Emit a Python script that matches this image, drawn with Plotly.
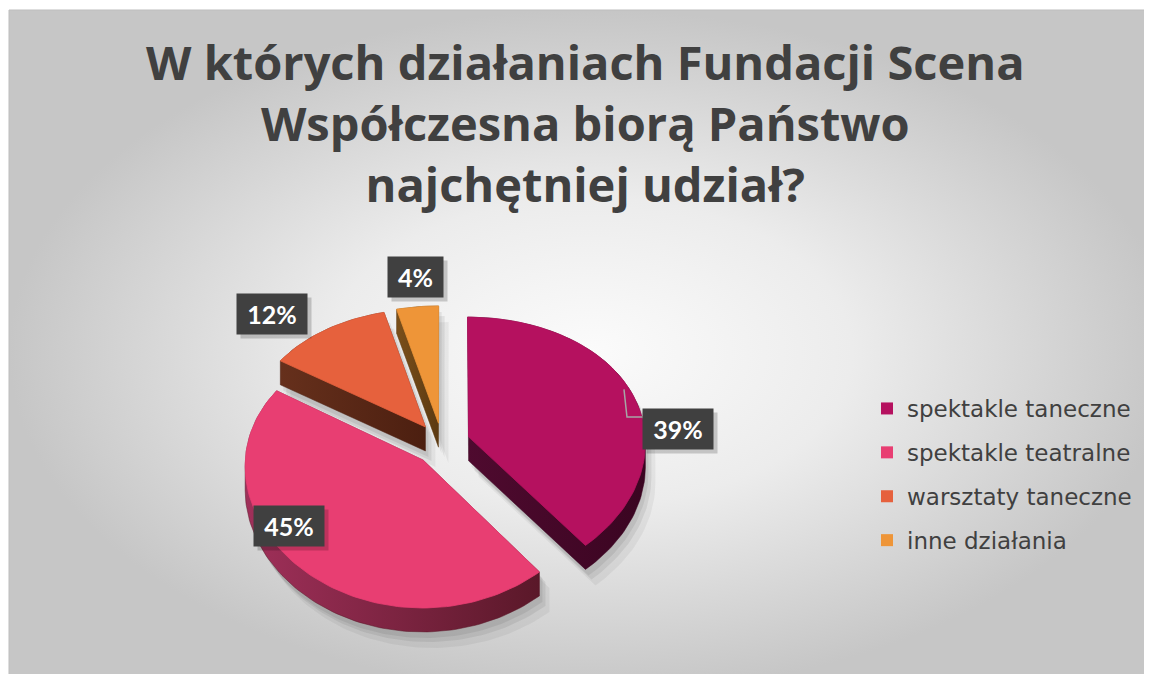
import numpy as np
import plotly.graph_objects as go

# ---------------- data ----------------
categories = ["spektakle taneczne", "spektakle teatralne", "warsztaty taneczne", "inne działania"]
values = [39, 45, 12, 4]
colors = ["#B5115F", "#E83E72", "#E6613D", "#EE9538"]
wall_colors = [["#4f0a2f", "#3a0521"], ["#a0305a", "#5a1829"], ["#66301c", "#4c1f10"], ["#7a4f1a", "#5c3a12"]]
title_lines = ["W których działaniach Fundacji Scena", "Współczesna biorą Państwo", "najchętniej udział?"]

# ---------------- layout constants ----------------
PAGE_W, PAGE_H = 1152, 674
OFF = 8  # default page body margin
W, H = PAGE_W - OFF, PAGE_H - OFF
CX, CY = 442.0, 444.0
RX, RY = 177.0, 133.0
PX, PY = 0.04, 0.09
T = 24.0
EXPLODE = 0.16
TITLE_FONT = "Open Sans"
LEG_FONT = "DejaVu Sans"
LAB_FONT = "Lato"
TXT = "#404040"
LABEL_XY = [(678, 429), (289, 526), (272, 314), (415, 277)]
LABEL_W = [70, 70, 70, 55]


def proj(u, v, z=0.0):
    u = np.asarray(u, float)
    v = np.asarray(v, float)
    x = CX + RX * u * (1 + PX * v)
    y = CY + RY * v * (1 + PY * v) + T * z
    return x, y


def hull(points):
    pts = sorted(set((round(a, 3), round(b, 3)) for a, b in points))
    if len(pts) < 3:
        return pts

    def cross(o, a, b):
        return (a[0] - o[0]) * (b[1] - o[1]) - (a[1] - o[1]) * (b[0] - o[0])

    lower, upper = [], []
    for p in pts:
        while len(lower) >= 2 and cross(lower[-2], lower[-1], p) <= 0:
            lower.pop()
        lower.append(p)
    for p in reversed(pts):
        while len(upper) >= 2 and cross(upper[-2], upper[-1], p) <= 0:
            upper.pop()
        upper.append(p)
    return lower[:-1] + upper[:-1]


total = float(sum(values))
bounds = np.concatenate([[0], np.cumsum(values)]) / total * 2 * np.pi

slices = []
for i, v in enumerate(values):
    a0, a1 = bounds[i], bounds[i + 1]
    mid = 0.5 * (a0 + a1)
    eu, ev = EXPLODE * np.sin(mid), -EXPLODE * np.cos(mid)
    n = max(4, int((a1 - a0) / (2 * np.pi) * 240))
    th = np.linspace(a0, a1, n)
    us = np.concatenate([[eu], eu + np.sin(th)])
    vs = np.concatenate([[ev], ev - np.cos(th)])
    slices.append((us, vs))

fig = go.Figure()

# background panel with radial gradient
fig.add_trace(go.Scatter(
    x=[9, PAGE_W + 20, PAGE_W + 20, 9, 9], y=[10, 10, PAGE_H + 20, PAGE_H + 20, 10],
    mode="lines", fill="toself", line=dict(color="#bdbdbd", width=1),
    fillgradient=dict(type="radial", colorscale=[[0, "#fbfbfb"], [0.45, "#ececec"], [1, "#c6c6c6"]]),
    hoverinfo="skip", showlegend=False))

# soft floor shadow
for dx, dy, a in [(10, 16, 0.05), (6, 10, 0.07), (3, 6, 0.07)]:
    for us, vs in slices:
        xt, yt = proj(us, vs, 0)
        xb, yb = proj(us, vs, 1)
        hp = hull(list(zip(xt, yt)) + list(zip(xb, yb)))
        hx = [p[0] + dx for p in hp] + [hp[0][0] + dx]
        hy = [p[1] + dy for p in hp] + [hp[0][1] + dy]
        fig.add_trace(go.Scatter(x=hx, y=hy, mode="lines", fill="toself",
                                 fillcolor=f"rgba(0,0,0,{a})", line=dict(width=0),
                                 hoverinfo="skip", showlegend=False))

# slices, back to front
order = sorted(range(len(values)), key=lambda i: -np.cos(0.5 * (bounds[i] + bounds[i + 1])))
for i in order:
    us, vs = slices[i]
    xt, yt = proj(us, vs, 0)
    xb, yb = proj(us, vs, 1)
    hp = hull(list(zip(xt, yt)) + list(zip(xb, yb)))
    hx = [p[0] for p in hp] + [hp[0][0]]
    hy = [p[1] for p in hp] + [hp[0][1]]
    fig.add_trace(go.Scatter(
        x=hx, y=hy, mode="lines", fill="toself", line=dict(width=0.5, color=wall_colors[i][1]),
        fillgradient=dict(type="horizontal", colorscale=[[0, wall_colors[i][0]], [1, wall_colors[i][1]]]),
        hoverinfo="skip", showlegend=False))
    fig.add_trace(go.Scatter(
        x=list(xt) + [xt[0]], y=list(yt) + [yt[0]], mode="lines", fill="toself",
        fillcolor=colors[i], line=dict(width=0.8, color=colors[i]),
        hoverinfo="skip", showlegend=False))

# leader line for the first slice label
a_mid = bounds[0] + 0.48 * (bounds[1] - bounds[0])
us0, vs0 = slices[0]
lx, ly = proj(us0[0] + 0.97 * np.sin(a_mid), vs0[0] - 0.97 * np.cos(a_mid))
lab_x, lab_y = LABEL_XY[0]
fig.add_trace(go.Scatter(
    x=[float(lx), float(lx) + 3, lab_x - LABEL_W[0] / 2],
    y=[float(ly), lab_y - 12, lab_y - 12],
    mode="lines", line=dict(color="#a6a6a6", width=1.5),
    hoverinfo="skip", showlegend=False))

# legend entries
for c, col in zip(categories, colors):
    fig.add_trace(go.Scatter(x=[None], y=[None], mode="markers", name=c, legendgroup=c,
                             marker=dict(symbol="square", size=12, color=col)))

annotations = []
for i, v in enumerate(values):
    x, y = LABEL_XY[i]
    annotations.append(dict(x=x + 4, y=y + 4, xref="x", yref="y", text=" ", showarrow=False,
                            width=LABEL_W[i], height=40, bgcolor="rgba(0,0,0,0.18)", borderpad=0))
for i, v in enumerate(values):
    x, y = LABEL_XY[i]
    annotations.append(dict(x=x, y=y, xref="x", yref="y", text=f"<b>{v}%</b>", showarrow=False,
                            width=LABEL_W[i], height=40, bgcolor="#404040", borderpad=0,
                            font=dict(family=LAB_FONT, size=25, color="white")))

annotations.append(dict(x=585, y=123, xref="x", yref="y", text="<br>".join(f"<b>{t}</b>" for t in title_lines),
                        showarrow=False, xanchor="center", yanchor="middle",
                        font=dict(family=TITLE_FONT, size=47, color=TXT)))

fig.update_layout(
    width=W, height=H, margin=dict(l=0, r=0, t=0, b=0),
    paper_bgcolor="white", plot_bgcolor="rgba(0,0,0,0)",
    xaxis=dict(range=[OFF, PAGE_W], visible=False, fixedrange=True),
    yaxis=dict(range=[PAGE_H, OFF], visible=False, fixedrange=True),
    annotations=annotations,
    shapes=[dict(type="rect", xref="x", yref="y", x0=878, y0=387, x1=1147, y1=563,
                 fillcolor="rgba(255,255,255,0.45)", line=dict(width=0), layer="below")],
    legend=dict(x=(867 - OFF) / W, y=1 - (387 - OFF) / H, xanchor="left", yanchor="top",
                bgcolor="rgba(0,0,0,0)",
                font=dict(family=LEG_FONT, size=23, color=TXT), tracegroupgap=11, itemwidth=30),
    showlegend=True,
)

fig.write_html("out.html", config={"displayModeBar": False})
